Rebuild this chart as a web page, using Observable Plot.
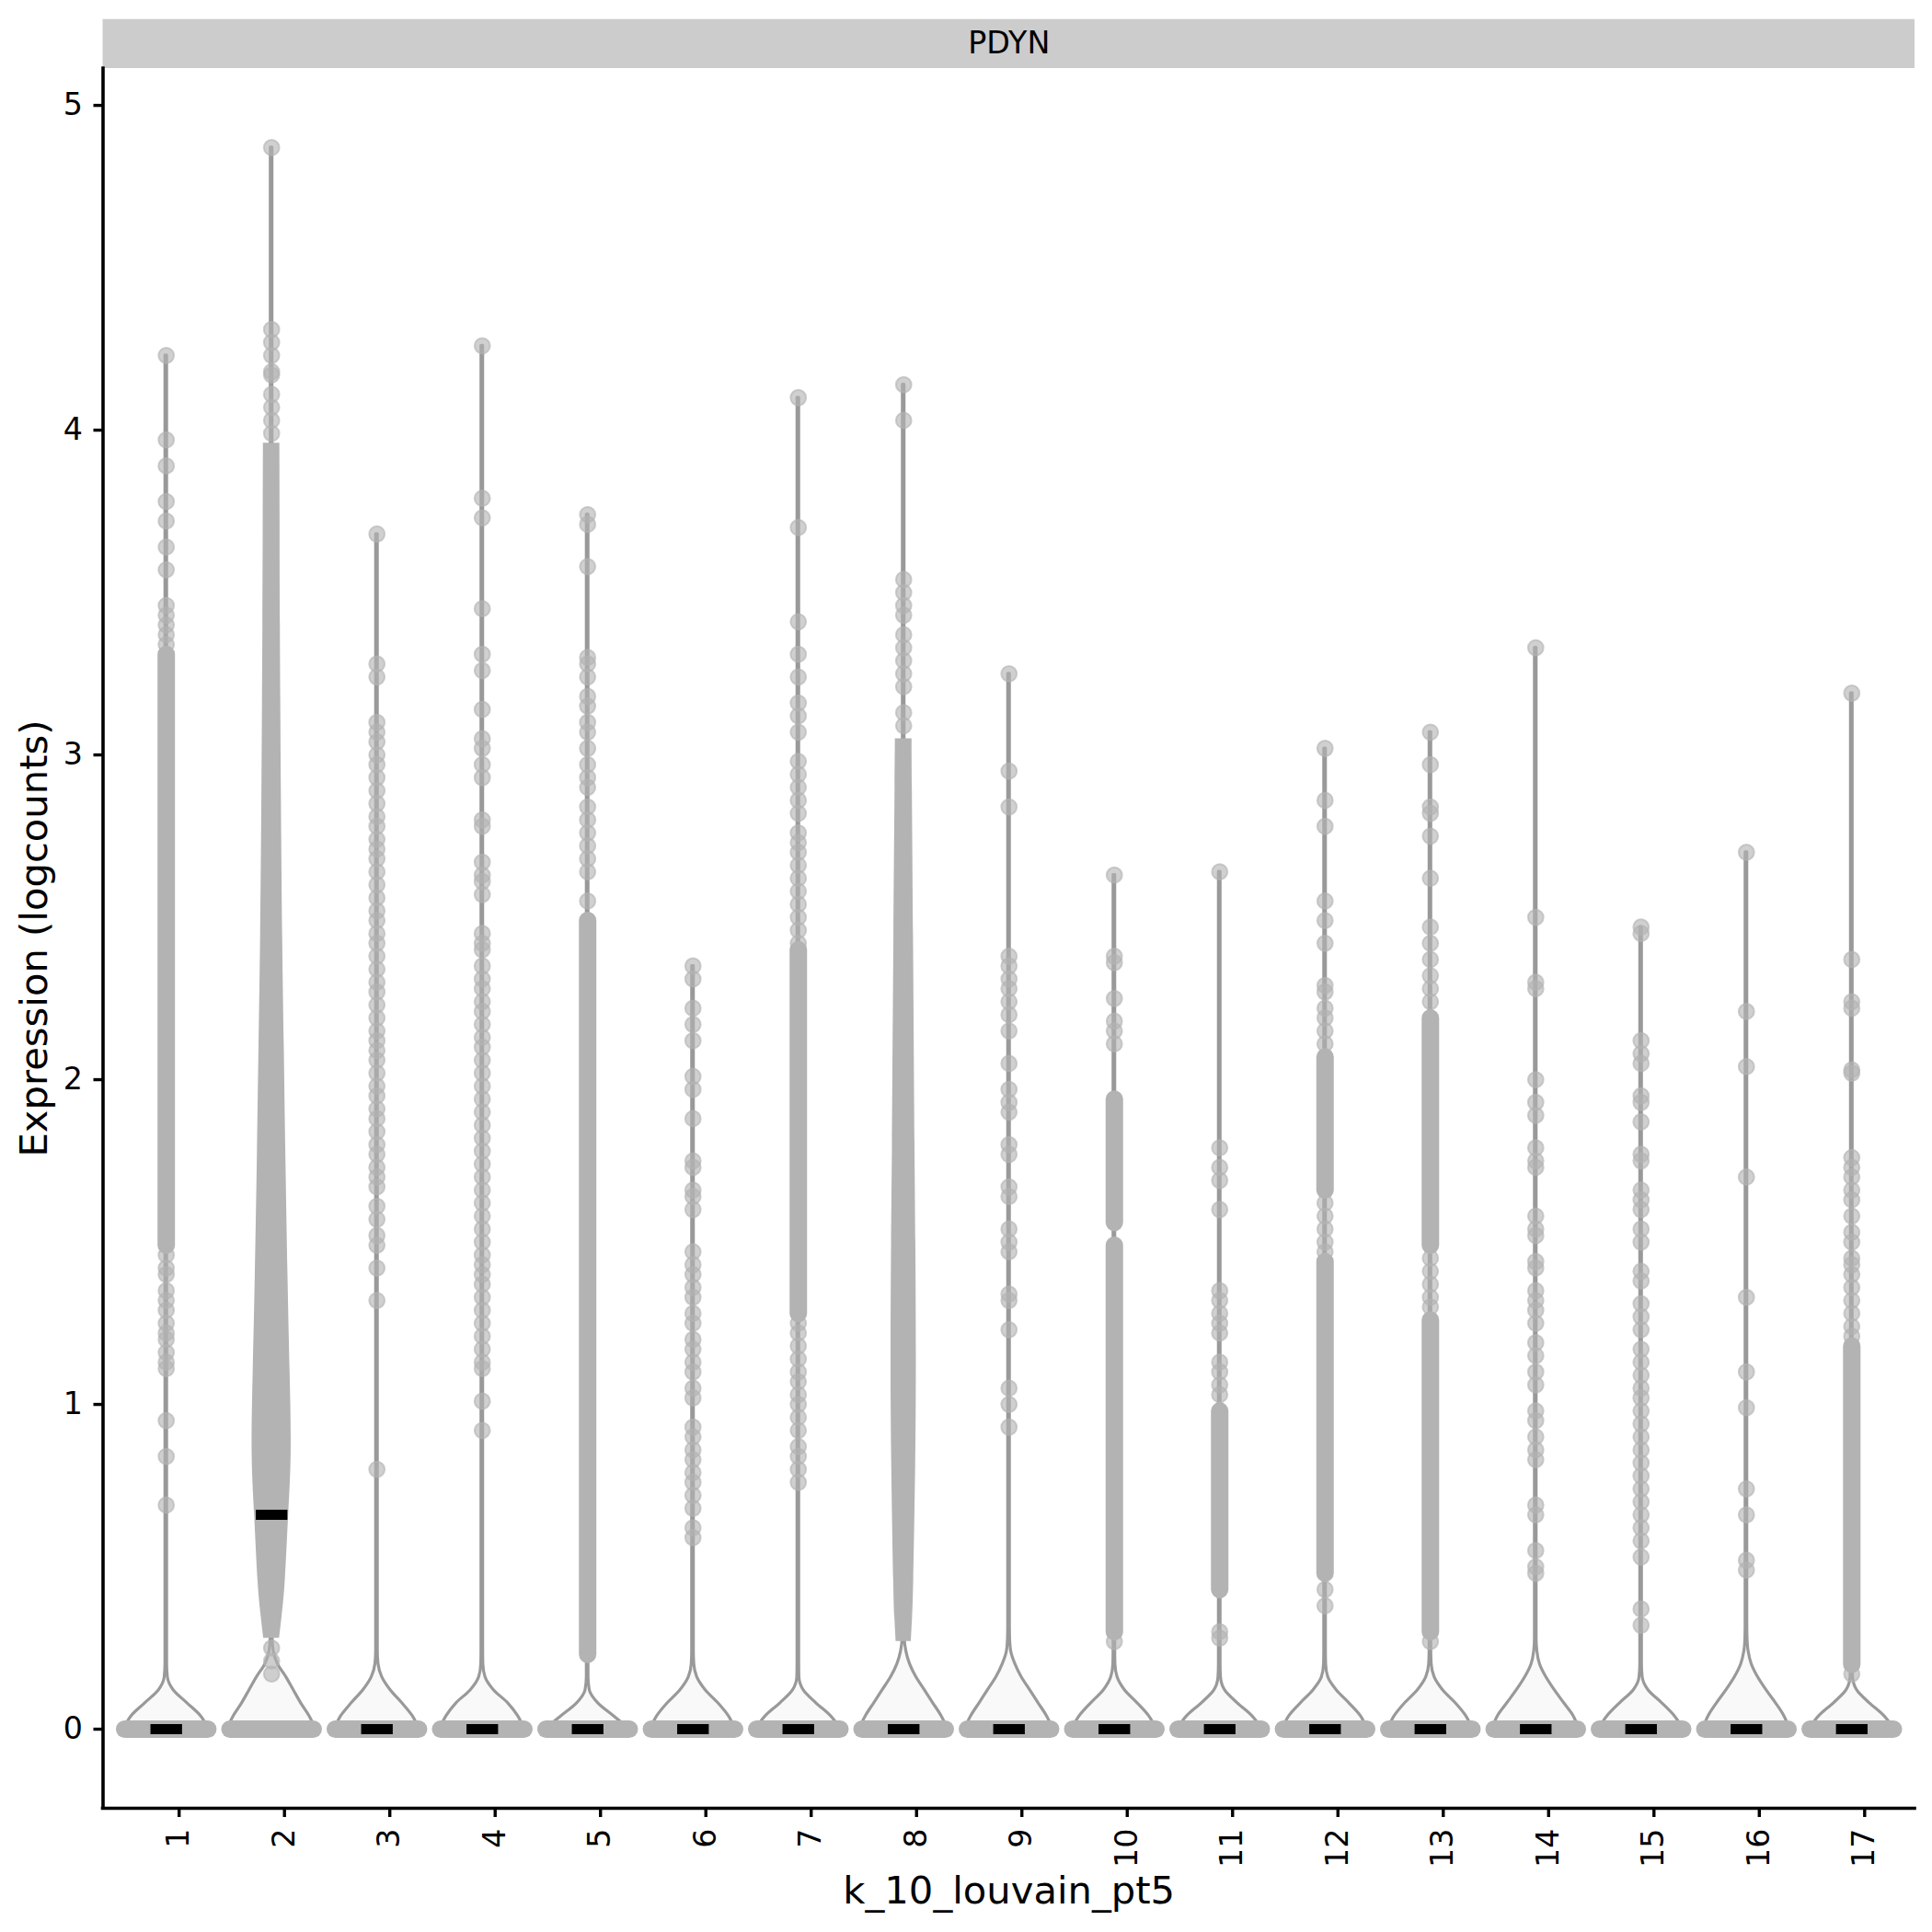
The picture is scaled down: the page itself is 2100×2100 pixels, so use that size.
<!DOCTYPE html>
<html><head><meta charset="utf-8">
<script src="https://cdn.jsdelivr.net/npm/d3@7"></script>
<script src="https://cdn.jsdelivr.net/npm/@observablehq/plot@0.6"></script>
<style>body{margin:0;background:#fff;}</style>
</head><body><div id="chart"></div>
<script>
// ---------------- data ----------------
const clusters = [1,2,3,4,5,6,7,8,9,10,11,12,13,14,15,16,17];
const panelTitle = "PDYN";
const xTitle = "k_10_louvain_pt5";
const yTitle = "Expression (logcounts)";
const yTicks = [0,1,2,3,4,5];

// median expression per cluster
const medians = [0,0.66,0,0,0,0,0,0,0,0,0,0,0,0,0,0,0];

// individually visible non-zero cells per cluster
const pts01 = [4.23,3.97,3.89,3.78,3.72,3.64,3.57,3.46,3.43,3.40,3.37,3.34,1.46,1.42,1.40,1.35,1.32,1.29,1.25,1.22,1.20,1.16,1.13,1.11,0.95,0.84,0.69];
const pts02 = [4.87,4.31,4.27,4.23,4.18,4.17,4.11,4.07,4.03,3.99,0.25,0.21,0.17];
const pts03 = [3.68,3.28,3.24,3.10,3.07,3.04,3.00,2.97,2.93,2.89,2.85,2.81,2.78,2.74,2.71,2.68,2.64,2.60,2.56,2.52,2.49,2.45,2.42,2.38,2.34,2.30,2.27,2.23,2.19,2.15,2.12,2.09,2.06,2.02,1.98,1.95,1.91,1.88,1.84,1.80,1.77,1.73,1.70,1.67,1.61,1.57,1.52,1.49,1.42,1.32,0.80];
const pts04 = [4.26,3.79,3.73,3.45,3.31,3.26,3.14,3.05,3.02,2.97,2.93,2.80,2.78,2.67,2.63,2.61,2.57,2.45,2.42,2.40,2.35,2.31,2.28,2.24,2.21,2.17,2.13,2.10,2.06,2.02,1.98,1.94,1.90,1.86,1.82,1.78,1.74,1.70,1.66,1.62,1.58,1.54,1.50,1.46,1.43,1.40,1.37,1.33,1.29,1.25,1.21,1.17,1.13,1.11,1.01,0.92];
const pts05 = [3.74,3.71,3.58,3.30,3.28,3.24,3.18,3.15,3.10,3.07,3.02,2.97,2.93,2.90,2.84,2.80,2.76,2.72,2.68,2.64,2.55];
const pts06 = [2.35,2.31,2.22,2.17,2.12,2.01,1.97,1.88,1.75,1.73,1.66,1.64,1.60,1.47,1.43,1.40,1.36,1.33,1.28,1.25,1.20,1.17,1.13,1.10,1.05,1.02,0.93,0.90,0.86,0.83,0.79,0.76,0.72,0.68,0.62,0.59];
const pts07 = [4.10,3.70,3.41,3.31,3.24,3.16,3.12,3.07,2.98,2.94,2.90,2.86,2.82,2.76,2.73,2.70,2.66,2.62,2.58,2.54,2.50,2.46,2.42,1.25,1.22,1.18,1.14,1.10,1.07,1.03,1.00,0.96,0.92,0.87,0.84,0.80,0.76];
const pts08 = [4.14,4.03,3.54,3.50,3.46,3.43,3.37,3.33,3.29,3.25,3.21,3.13,3.09];
const pts09 = [3.25,2.95,2.84,2.38,2.35,2.31,2.28,2.24,2.20,2.15,2.05,1.97,1.93,1.90,1.80,1.77,1.67,1.64,1.54,1.50,1.47,1.34,1.32,1.23,1.05,1.00,0.93];
const pts10 = [2.63,2.38,2.36,2.25,2.18,2.15,2.11,0.27];
const pts11 = [2.64,1.79,1.73,1.69,1.60,1.35,1.32,1.28,1.25,1.22,1.13,1.10,1.06,1.03,0.30,0.28];
const pts12 = [3.02,2.86,2.78,2.55,2.49,2.42,2.29,2.27,2.22,2.19,2.15,2.11,1.62,1.58,1.54,1.50,1.47,0.43,0.38];
const pts13 = [3.07,2.97,2.84,2.82,2.75,2.62,2.47,2.42,2.37,2.32,2.28,2.24,1.45,1.41,1.37,1.33,1.30,0.27];
const pts14 = [3.33,2.50,2.30,2.28,2.00,1.93,1.89,1.79,1.75,1.73,1.58,1.54,1.52,1.44,1.42,1.35,1.32,1.29,1.25,1.19,1.15,1.10,1.06,0.98,0.95,0.90,0.86,0.83,0.69,0.66,0.55,0.50,0.48];
const pts15 = [2.47,2.45,2.12,2.08,2.05,1.95,1.93,1.87,1.77,1.75,1.66,1.63,1.60,1.54,1.50,1.41,1.38,1.31,1.27,1.23,1.17,1.13,1.09,1.05,1.02,0.98,0.94,0.90,0.86,0.82,0.78,0.74,0.70,0.66,0.62,0.58,0.53,0.37,0.32];
const pts16 = [2.70,2.21,2.04,1.70,1.33,1.10,0.99,0.74,0.66,0.52,0.49];
const pts17 = [3.19,2.37,2.24,2.22,2.03,2.02,1.76,1.73,1.70,1.66,1.63,1.58,1.53,1.50,1.45,1.43,1.40,1.36,1.32,1.28,1.24,1.21,0.17];

// stretches where the cells overlap into a solid column: [cluster, low, high]
const denseRuns = [
  [1,1.49,3.31],[5,0.23,2.49],[7,1.28,2.40],
  [10,0.30,1.49],[10,1.56,1.94],[11,0.43,0.98],
  [12,0.48,1.44],[12,1.66,2.07],[13,0.30,1.26],[13,1.49,2.19],[17,0.20,1.18]
];

// solid swarm outline for the two densest clusters: [expression, half-width in cluster units]
const swarm2 = [[0.28,0.075],[0.35,0.10],[0.46,0.13],[0.65,0.16],[0.85,0.185],[1.10,0.175],[1.40,0.155],[1.77,0.135],[2.10,0.12],[2.43,0.105],[2.90,0.092],[3.40,0.083],[3.72,0.08],[3.96,0.078]];
const swarm8 = [[0.27,0.072],[0.35,0.085],[0.46,0.095],[0.80,0.113],[1.15,0.12],[1.50,0.115],[1.80,0.107],[2.40,0.094],[2.90,0.082],[3.05,0.079]];

// violin half-widths (cluster units) at these expression levels
const violinLevels = [0,0.04,0.08,0.12,0.16,0.20,0.24,0.28,0.32];
const violinHalf = [
  [0.40,0.33,0.20,0.07,0.015,0.008,0.008,0.008,0.008],
  [0.42,0.36,0.28,0.21,0.14,0.06,0.02,0.01,0.008],
  [0.40,0.34,0.24,0.13,0.05,0.015,0.008,0.008,0.008],
  [0.40,0.34,0.245,0.11,0.03,0.01,0.008,0.008,0.008],
  [0.40,0.25,0.10,0.02,0.008,0.008,0.008,0.008,0.008],
  [0.40,0.34,0.24,0.12,0.04,0.012,0.008,0.008,0.008],
  [0.40,0.31,0.17,0.05,0.01,0.008,0.008,0.008,0.008],
  [0.42,0.36,0.28,0.20,0.12,0.06,0.025,0.01,0.008],
  [0.42,0.36,0.28,0.20,0.12,0.06,0.02,0.01,0.008],
  [0.40,0.33,0.22,0.10,0.03,0.01,0.008,0.008,0.008],
  [0.40,0.31,0.17,0.05,0.012,0.008,0.008,0.008,0.008],
  [0.40,0.34,0.23,0.11,0.03,0.01,0.008,0.008,0.008],
  [0.40,0.34,0.24,0.12,0.04,0.012,0.008,0.008,0.008],
  [0.41,0.36,0.27,0.18,0.10,0.04,0.015,0.008,0.008],
  [0.40,0.32,0.20,0.07,0.015,0.008,0.008,0.008,0.008],
  [0.41,0.36,0.28,0.19,0.11,0.05,0.02,0.01,0.008],
  [0.40,0.31,0.17,0.05,0.012,0.008,0.008,0.008,0.008]
];

// ---------------- build tables ----------------
const allPts = [pts01,pts02,pts03,pts04,pts05,pts06,pts07,pts08,pts09,pts10,pts11,pts12,pts13,pts14,pts15,pts16,pts17];
const stemHalf = 0.008;
const jitterHalf = 0.395;
const barHalf = 0.15;

const pointRows = [];
allPts.forEach((arr, i) => arr.forEach(v => pointRows.push({c: clusters[i], v})));

const violinRows = [];
clusters.forEach((c, i) => {
  const top = d3.max(allPts[i]);
  violinLevels.forEach((lv, j) => { if (lv < top) violinRows.push({c, y: lv, hw: violinHalf[i][j]}); });
  violinRows.push({c, y: top, hw: stemHalf});
});

const runRows = denseRuns.map(([c, lo, hi]) => ({c, lo, hi}));
const swarmRows = [
  ...swarm2.map(([y, hw]) => ({c: 2, y, hw})),
  ...swarm8.map(([y, hw]) => ({c: 8, y, hw}))
];
const zeroRows = clusters.map(c => ({c, v: 0}));
const medianRows = clusters.map((c, i) => ({c, m: medians[i]}));

const xDomain = [0.4, 17.6];
const yDomain = [-0.2435, 5.1135];
const grey = "#B3B3B3";

const mL = 111.5, mR = 19, mT = 74, mB = 135;

const plot = Plot.plot({
  width: 2100,
  height: 2100,
  marginLeft: mL, marginRight: mR, marginTop: mT, marginBottom: mB,
  style: {fontFamily: "DejaVu Sans", background: "white", color: "black", overflow: "visible"},
  x: {type: "linear", domain: xDomain, axis: null},
  y: {domain: yDomain, axis: null},
  marks: [
    Plot.areaX(violinRows, {z: "c", y: "y", x1: d => d.c - d.hw, x2: d => d.c + d.hw,
      fill: "#F9F9F9", stroke: "#999999", strokeWidth: 3.2, curve: "monotone-y"}),
    Plot.link(zeroRows, {x1: d => d.c - jitterHalf, x2: d => d.c + jitterHalf, y1: "v", y2: "v",
      stroke: grey, strokeWidth: 19, strokeLinecap: "round"}),
    Plot.link(runRows, {x1: "c", x2: "c", y1: "lo", y2: "hi",
      stroke: grey, strokeWidth: 19, strokeLinecap: "round"}),
    Plot.areaX(swarmRows, {z: "c", y: "y", x1: d => d.c - d.hw, x2: d => d.c + d.hw,
      fill: grey, curve: "natural"}),
    Plot.dot(pointRows, {x: "c", y: "v", r: 8.4, fill: grey, fillOpacity: 0.62,
      stroke: grey, strokeOpacity: 0.62, strokeWidth: 2}),
    Plot.link(medianRows, {x1: d => d.c - barHalf, x2: d => d.c + barHalf, y1: "m", y2: "m",
      stroke: "black", strokeWidth: 11}),
    Plot.ruleX([xDomain[0]], {stroke: "black", strokeWidth: 3.6, strokeLinecap: "square"}),
    Plot.ruleY([yDomain[0]], {stroke: "black", strokeWidth: 3.6, strokeLinecap: "square"}),
    Plot.axisY({ticks: yTicks, tickSize: 10, tickPadding: 12, fontSize: 33.3, strokeWidth: 3.4,
      label: null, tickFormat: d => String(d)}),
    Plot.axisX({ticks: clusters, tickSize: 10, tickPadding: 12, tickRotate: -90, fontSize: 33.3,
      strokeWidth: 3.4, label: null, tickFormat: d => String(d), dx: 14}),
    Plot.text([xTitle], {frameAnchor: "bottom", dy: 90, fontSize: 41.7, text: d => d,
      textAnchor: "middle", lineAnchor: "middle"}),
    Plot.text([yTitle], {frameAnchor: "left", dx: -74.5, rotate: -90, fontSize: 41.7, text: d => d,
      textAnchor: "middle", lineAnchor: "middle"}),
    Plot.text([panelTitle], {frameAnchor: "top", dy: -26.7, fontSize: 33.3, text: d => d,
      textAnchor: "middle", lineAnchor: "middle"})
  ]
});

// facet strip background behind the panel title
const svg = d3.select(plot);
svg.insert("rect", "g")
  .attr("x", mL).attr("y", 20.7)
  .attr("width", 2100 - mL - mR).attr("height", mT - 20.7)
  .attr("fill", "#CCCCCC");

document.getElementById("chart").appendChild(plot);
</script>
</body></html>
